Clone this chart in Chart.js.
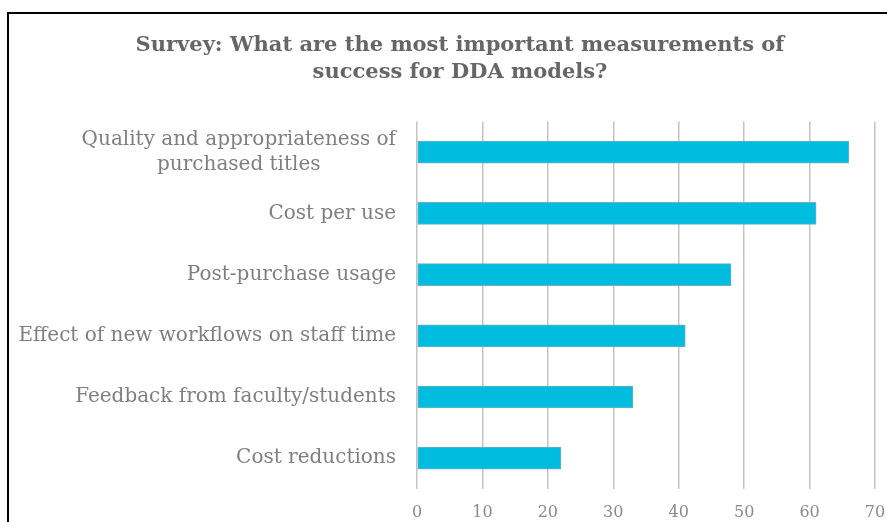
<!DOCTYPE html>
<html>
<head>
<meta charset="utf-8">
<script src="https://cdn.jsdelivr.net/npm/chart.js@4.4.0/dist/chart.umd.min.js"></script>
<style>
  html, body { margin: 0; padding: 0; background: #fff; overflow: hidden; width: 887px; height: 522px; }
  #frame { position: absolute; left: 7px; top: 12px; border: 2px solid #000; width: 910px; height: 534px; }
  #chart { display: block; }
</style>
</head>
<body>
<div id="frame"><canvas id="chart" width="910" height="534"></canvas></div>
<script>
// Survey answers, top to bottom
const categories = [
  ['Quality and appropriateness of', 'purchased titles'],
  ['Cost per use'],
  ['Post-purchase usage'],
  ['Effect of new workflows on staff time'],
  ['Feedback from faculty/students'],
  ['Cost reductions']
];
const responses = [66, 61, 48, 41, 33, 22];
const xTicks = [0, 10, 20, 30, 40, 50, 60, 70];

const BAR_COLOR = '#00BDE0';
const GRID_COLOR = '#c4c4c4';
const LABEL_COLOR = '#7f7f7f';
const SERIF = '"DejaVu Serif", "Liberation Serif", serif';

// Category labels: each label's lines centred on its widest line, right edge at the axis gap
const categoryLabels = {
  id: 'categoryLabels',
  afterDraw(chart) {
    const { ctx } = chart;
    const yScale = chart.scales.y;
    const right = chart.chartArea.left - 21;
    const lineH = 25;
    ctx.save();
    ctx.font = '20px ' + SERIF;
    ctx.fillStyle = LABEL_COLOR;
    ctx.textAlign = 'center';
    ctx.textBaseline = 'middle';
    categories.forEach((lines, i) => {
      const widest = Math.max(...lines.map(l => ctx.measureText(l).width));
      const cx = right - widest / 2;
      const cy = yScale.getPixelForValue(i);
      lines.forEach((line, j) => {
        ctx.fillText(line, cx, cy + (j - (lines.length - 1) / 2) * lineH);
      });
    });
    ctx.restore();
  }
};

new Chart(document.getElementById('chart'), {
  type: 'bar',
  data: {
    labels: categories.map(c => c.join(' ')),
    datasets: [{
      data: responses,
      backgroundColor: BAR_COLOR,
      borderColor: '#6fb0c0',
      borderWidth: 1,
      borderSkipped: false,
      barThickness: 22
    }]
  },
  options: {
    indexAxis: 'y',
    responsive: false,
    animation: false,
    layout: { padding: { top: 0, right: 44, bottom: 12, left: 36 } },
    plugins: {
      legend: { display: false },
      tooltip: { enabled: false },
      title: {
        display: true,
        text: ['Survey: What are the most important measurements of', 'success for DDA models?'],
        color: '#666666',
        font: { family: SERIF, size: 21, weight: 'bold', lineHeight: 1.3 },
        padding: { top: 18, bottom: 35 }
      }
    },
    scales: {
      x: {
        min: 0,
        max: 70,
        afterBuildTicks: (scale) => { scale.ticks = xTicks.map(v => ({ value: v })); },
        grid: { color: GRID_COLOR, lineWidth: 1.5, drawTicks: false },
        border: { display: false },
        ticks: { color: '#8a8a8a', padding: 14, font: { family: SERIF, size: 16 } }
      },
      y: {
        grid: { display: false },
        border: { display: false },
        ticks: { display: false },
        afterFit: (scale) => { scale.width = 372; }
      }
    }
  },
  plugins: [categoryLabels]
});
</script>
</body>
</html>
